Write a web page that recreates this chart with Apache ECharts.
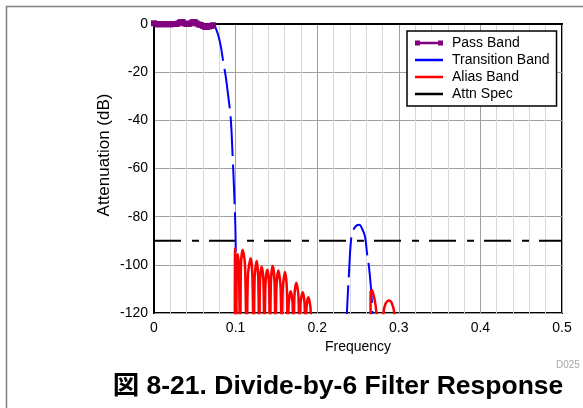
<!DOCTYPE html>
<html>
<head>
<meta charset="utf-8">
<script src="https://cdn.jsdelivr.net/npm/echarts@6/dist/echarts.min.js"></script>
<style>
  html, body { margin: 0; padding: 0; background: #fff; }
  #chart { width: 583px; height: 408px; }
</style>
</head>
<body>
<div id="chart"></div>
<script>
// pass band (0 .. 0.0725)
const passFreq = [0, 0.0025, 0.005, 0.0075, 0.01, 0.0125, 0.015, 0.0175, 0.02, 0.0225, 0.025, 0.0275, 0.03, 0.0325, 0.035,
  0.0375, 0.04, 0.0425, 0.045, 0.0475, 0.05, 0.0525, 0.055, 0.0575, 0.06, 0.0625, 0.065, 0.0675, 0.07, 0.0725]
const passDb = [0.3, 0, -0.2, 0, 0, -0.2, 0, 0, -0.2, 0, 0, 0, 0.3, 0.8, 0.8, 0.2, 0, 0, 0.3, 0.8, 0.8, 0.2, -0.2, -0.4,
  -0.8, -1.2, -1.2, -1.0, -0.8, -0.5]

// transition band: main skirt, then the image lobe near 0.25 (null = gap)
const transFreq = [0.07, 0.073, 0.076, 0.079, 0.082, 0.085, 0.088, 0.091, 0.094, 0.0965, 0.0985, 0.0997, 0.1003, 0.101,
  null,
  0.2355, 0.2365, 0.239, 0.242, 0.245, 0.2485, 0.2516, 0.255, 0.2586, 0.261, 0.2635, 0.2656, 0.267, 0.2685]
const transDb = [0, -0.5, -2, -5, -9.5, -16, -22, -30, -39, -56, -72, -84, -98, -125,
  null,
  -125, -119, -103, -88, -85, -83.6, -83.4, -85, -88.3, -95, -101, -108.4, -115, -125]

// alias band lobes: null, shoulder, peak, shoulder, null ...
const aliasFreq = [
  0.0990, 0.0992, 0.0994, 0.0999, 0.1008, 0.1013, 0.1025, 0.1040, 0.1056, 0.1066, 0.1087, 0.1115, 0.1136,
  0.1152, 0.1185, 0.1205, 0.1222, 0.1234, 0.1258, 0.1277, 0.1289, 0.1299, 0.1319, 0.1341, 0.1354,
  0.1366, 0.1389, 0.1410, 0.1422, 0.1433, 0.1454, 0.1477, 0.1489, 0.1501, 0.1524, 0.1551, 0.1565,
  0.1578, 0.1605, 0.1628, 0.1640, 0.1651, 0.1675, 0.1698, 0.1710, 0.1721, 0.1744, 0.1770, 0.1783,
  0.1796, 0.1822, 0.1845, 0.1857, 0.1869, 0.1891, 0.1918, 0.1930,
  null,
  0.2652, 0.2654, 0.2656, 0.2670, 0.2690, 0.2712, 0.2725, 0.2737,
  0.2800, 0.2812, 0.2840, 0.2880, 0.2915, 0.2945, 0.2955]
const aliasDb = [
  -135, -96, -93, -99, -135, -101, -95.5, -101, -135, -100, -93.8, -100, -135,
  -104, -97.3, -104, -135, -105, -98.4, -105, -135, -107, -100.8, -107, -135,
  -108, -102, -108, -135, -107, -100.5, -107, -135, -109, -102.4, -109, -135,
  -110, -103, -110, -135, -116, -111, -116, -135, -113, -107.4, -113, -135,
  -116, -111.4, -116, -135, -118, -113.5, -118, -135,
  null,
  -135, -115, -111, -110.5, -112.5, -116, -120, -135,
  -135, -120, -116, -114.8, -116, -120, -135]

const specFreq = [0, 0.5]
const specDb = [-90, -90]

const xTicks = [0, 0.1, 0.2, 0.3, 0.4, 0.5]
const yTicks = [0, -20, -40, -60, -80, -100, -120]

const pair = (xs, ys) => xs.map((x, i) => (x === null ? [null, null] : [x, ys[i]]))

const font = 'Liberation Sans, Arial, Noto Sans CJK JP, sans-serif'
const chart = echarts.init(document.getElementById('chart'))

const option = {
  animation: false,
  textStyle: { fontFamily: font },
  grid: {
    left: 154,
    top: 24,
    right: 21,
    bottom: 95,
    show: true,
    borderColor: '#000',
    borderWidth: 2
  },
  title: {
    text: '図 8-21. Divide-by-6 Filter Response',
    left: 333,
    top: 368,
    textAlign: 'center',
    textStyle: { fontFamily: font, fontSize: 26.5, fontWeight: 'bold', color: '#000' }
  },
  legend: {
    left: 407,
    top: 31,
    orient: 'vertical',
    padding: [5, 7, 5, 8],
    itemWidth: 28,
    itemHeight: 14,
    itemGap: 3,
    backgroundColor: '#fff',
    borderColor: '#000',
    borderWidth: 1.5,
    borderRadius: 0,
    textStyle: { fontSize: 14, color: '#000', fontFamily: font, padding: [0, 0, 0, 4] },
    data: [
      { name: 'Pass Band', icon: 'path://M0,0H5V5H0ZM23,0H28V5H23ZM5,1.3H23V3.7H5Z' },
      { name: 'Transition Band', icon: 'path://M0,0H28V2.5H0Z' },
      { name: 'Alias Band', icon: 'path://M0,0H28V2.5H0Z' },
      { name: 'Attn Spec', icon: 'path://M0,0H28V2.5H0Z' }
    ]
  },
  xAxis: {
    type: 'value',
    min: 0,
    max: 0.5,
    interval: 0.1,
    name: 'Frequency',
    nameLocation: 'middle',
    nameGap: 24,
    nameTextStyle: { fontSize: 14, color: '#000' },
    axisLine: { lineStyle: { color: '#000', width: 2 } },
    axisTick: { show: false },
    axisLabel: {
      fontSize: 14,
      color: '#000',
      margin: 8,
      formatter: v => (xTicks.includes(+v.toFixed(1)) ? String(+v.toFixed(1)) : '')
    },
    splitLine: { show: true, lineStyle: { color: '#a0a0a0', width: 1 } },
    minorTick: { show: false, splitNumber: 5 },
    minorSplitLine: { show: true, lineStyle: { color: '#d8d8d8', width: 1 } }
  },
  yAxis: {
    type: 'value',
    min: -120,
    max: 0,
    interval: 20,
    axisLine: { lineStyle: { color: '#000', width: 2 } },
    axisTick: { show: false },
    axisLabel: {
      fontSize: 14,
      color: '#000',
      margin: 6,
      formatter: v => (yTicks.includes(v) ? String(v) : '')
    },
    splitLine: { show: true, lineStyle: { color: '#a0a0a0', width: 1 } }
  },
  series: [
    {
      name: 'Pass Band',
      type: 'line',
      clip: false,
      data: pair(passFreq, passDb),
      symbol: 'rect',
      symbolSize: 6,
      color: '#800080',
      itemStyle: { color: '#800080' },
      lineStyle: { color: '#800080', width: 3 },
      z: 4
    },
    {
      name: 'Transition Band',
      type: 'line',
      data: pair(transFreq, transDb),
      showSymbol: false,
      smooth: 0.4,
      color: '#0000ff',
      itemStyle: { color: '#0000ff' },
      lineStyle: { color: '#0000ff', width: 2, type: [40, 8] },
      z: 3
    },
    {
      name: 'Alias Band',
      type: 'line',
      data: pair(aliasFreq, aliasDb),
      showSymbol: false,
      smooth: 0.3,
      color: '#ff0000',
      itemStyle: { color: '#ff0000' },
      lineStyle: { color: '#ff0000', width: 2.5 },
      z: 3
    },
    {
      name: 'Attn Spec',
      type: 'line',
      data: pair(specFreq, specDb),
      showSymbol: false,
      color: '#000',
      itemStyle: { color: '#000' },
      lineStyle: { color: '#000', width: 2, type: [27, 11, 7, 10] },
      z: 2
    }
  ],
  graphic: [
    {
      type: 'rect',
      left: 4,
      top: 4,
      shape: { width: 600, height: 420 },
      style: { fill: 'none', stroke: '#808080', lineWidth: 1.5 },
      silent: true,
      z: -10
    },
    {
      type: 'text',
      x: 104,
      y: 155,
      rotation: Math.PI / 2,
      style: {
        text: 'Attenuation (dB)',
        fill: '#000',
        font: '17px ' + font,
        align: 'center',
        verticalAlign: 'middle'
      }
    },
    {
      type: 'text',
      left: 556,
      top: 360,
      style: { text: 'D025', fill: '#a8a8a8', font: '10px ' + font }
    }
  ]
}

chart.setOption(option)
</script>
</body>
</html>
